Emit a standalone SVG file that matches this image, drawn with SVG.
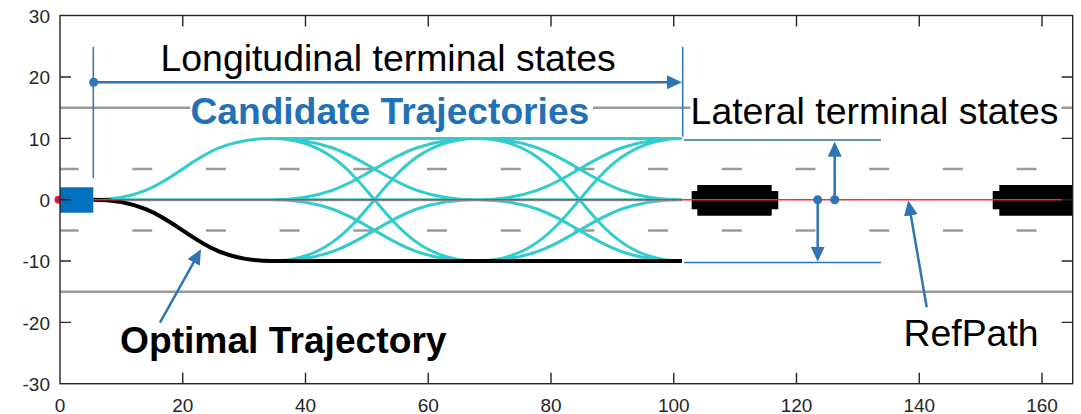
<svg xmlns="http://www.w3.org/2000/svg" width="1081" height="414" viewBox="0 0 1081 414">
<style>
text{font-family:"Liberation Sans",Arial,Helvetica,sans-serif}
.tick{font-size:19px;fill:#262626}
.big{font-size:37.4px;fill:#000}
.bold{font-size:37.2px;font-weight:bold}
.lane{stroke:#9a9a9a;stroke-width:2.5;fill:none}
.dash{stroke-dasharray:20 53.7}
.cand{stroke:#33cccc;stroke-width:3;fill:none}
.opt{stroke:#000;stroke-width:4;fill:none}
.ann{stroke:#2e75b6;fill:none}
.thin{stroke-width:1.5}
.thick{stroke-width:2.5}
.dot{fill:#2e75b6}
.car{fill:#000}
.axis{stroke:#262626;stroke-width:1.4;fill:none}
</style>
<defs>
<clipPath id="plot"><rect x="60" y="15.5" width="1012.7" height="368.2"/></clipPath>
<marker id="ah" viewBox="0 0 15 14" refX="12" refY="7" markerWidth="15" markerHeight="14" markerUnits="userSpaceOnUse" orient="auto"><path d="M0,0 L15,7 L0,14 z" fill="#2e75b6"/></marker>
</defs>
<rect width="1081" height="414" fill="#fff"/>
<g id="plot-area" clip-path="url(#plot)">
<g id="lanes">
<path class="lane" d="M60,107.7 H1073 M60,291.7 H1073"/>
<path class="lane dash" d="M58.5,169 H1073 M58.5,230.4 H1073"/>
</g>
<g id="candidate-trajectories">
<path class="cand" d="M93.3,199.7 C182.65,199.7 182.65,138.4 272,138.4 M93.3,199.7 L272,199.7 M93.3,199.7 C182.65,199.7 182.65,261 272,261"/>
<path class="cand" d="M272,138.4 L477,138.4 M272,138.4 C374.5,138.4 374.5,199.7 477,199.7 M272,138.4 C374.5,138.4 374.5,261 477,261 M272,199.7 C374.5,199.7 374.5,138.4 477,138.4 M272,199.7 L477,199.7 M272,199.7 C374.5,199.7 374.5,261 477,261 M272,261 C374.5,261 374.5,138.4 477,138.4 M272,261 C374.5,261 374.5,199.7 477,199.7 M272,261 L477,261"/>
<path class="cand" d="M477,138.4 L682,138.4 M477,138.4 C579.5,138.4 579.5,199.7 682,199.7 M477,138.4 C579.5,138.4 579.5,261 682,261 M477,199.7 C579.5,199.7 579.5,138.4 682,138.4 M477,199.7 L682,199.7 M477,199.7 C579.5,199.7 579.5,261 682,261 M477,261 C579.5,261 579.5,138.4 682,138.4 M477,261 C579.5,261 579.5,199.7 682,199.7 M477,261 L682,261"/>
</g>
<g id="optimal-trajectory">
<path class="opt" d="M93.3,199.7 C182.65,199.7 182.65,261 272,261 L682,261"/>
</g>
<g id="car-1"><path class="car" d="M697.3,185 H771.7 V191 H778.3 V209.3 H771.7 V215.7 H697.3 V209.3 H691.7 V191 H697.3 Z"/></g>
<g id="car-2"><path class="car" d="M999.3,185 H1085 V215.7 H999.3 V209.3 H992.7 V191 H999.3 Z"/></g>
<g id="refpath"><path d="M60,199.7 H1061.7" stroke="#ff2a2a" stroke-width="1.4" fill="none"/></g>
<g id="ego"><rect x="55" y="187.3" width="38.3" height="25.4" fill="#0070bf"/></g>
</g>
<g id="origin"><circle cx="58.5" cy="199.7" r="3.2" fill="#6a32b0" stroke="#ff1a1a" stroke-width="1.6"/></g>
<g id="connectors">
<path class="ann thin" d="M93.3,46.7 V178.3 M682.7,46.7 V136.7 M684,140 H881 M684,262.5 H881"/>
<circle class="dot" cx="93.7" cy="82.3" r="4.5"/>
<path class="ann thick" d="M93.7,82.3 H679" marker-end="url(#ah)"/>
<circle class="dot" cx="834.7" cy="199.7" r="4.5"/>
<path class="ann thick" d="M834.7,199.7 V144.7" marker-end="url(#ah)"/>
<circle class="dot" cx="817.7" cy="199.7" r="4.5"/>
<path class="ann thick" d="M817.7,199.7 V258.7" marker-end="url(#ah)"/>
<path class="ann thick" d="M926.7,307.3 L908.8,203.5" marker-end="url(#ah)"/>
<path class="ann thick" d="M160,322.7 L199.5,251.9" marker-end="url(#ah)"/>
</g>
<g id="label-longitudinal"><text class="big" x="160.5" y="71">Longitudinal terminal states</text></g>
<g id="label-candidate">
<rect x="190" y="92" width="403" height="38" fill="#fff"/>
<text class="bold" x="190.4" y="124" fill="#2270b5">Candidate Trajectories</text>
</g>
<g id="label-lateral">
<rect x="690.5" y="92" width="371" height="38" fill="#fff"/>
<text class="big" x="690.6" y="124">Lateral terminal states</text>
</g>
<g id="label-optimal"><text class="bold" x="120" y="353" fill="#000">Optimal Trajectory</text></g>
<g id="label-refpath"><text class="big" x="903.5" y="345.7">RefPath</text></g>
<g id="axes">
<rect class="axis" x="60" y="15.5" width="1012.7" height="368.2"/>
<path class="axis" d="M182.75,383.7 v-11 M305.5,383.7 v-11 M428.25,383.7 v-11 M551,383.7 v-11 M673.75,383.7 v-11 M796.5,383.7 v-11 M919.25,383.7 v-11 M1042,383.7 v-11 M182.75,15.5 v11 M305.5,15.5 v11 M428.25,15.5 v11 M551,15.5 v11 M673.75,15.5 v11 M796.5,15.5 v11 M919.25,15.5 v11 M1042,15.5 v11 M60,77 h11 M60,138.4 h11 M60,199.7 h11 M60,261 h11 M60,322.4 h11 M1072.7,77 h-11 M1072.7,138.4 h-11 M1072.7,199.7 h-11 M1072.7,261 h-11 M1072.7,322.4 h-11"/>
<g class="tick" text-anchor="end">
<text x="50" y="23">30</text>
<text x="50" y="84.3">20</text>
<text x="50" y="145.7">10</text>
<text x="50" y="207">0</text>
<text x="50" y="268.3">-10</text>
<text x="50" y="329.7">-20</text>
<text x="50" y="391">-30</text>
</g>
<g class="tick" text-anchor="middle">
<text x="60" y="412">0</text>
<text x="182.75" y="412">20</text>
<text x="305.5" y="412">40</text>
<text x="428.25" y="412">60</text>
<text x="551" y="412">80</text>
<text x="673.75" y="412">100</text>
<text x="796.5" y="412">120</text>
<text x="919.25" y="412">140</text>
<text x="1042" y="412">160</text>
</g>
</g>
</svg>
